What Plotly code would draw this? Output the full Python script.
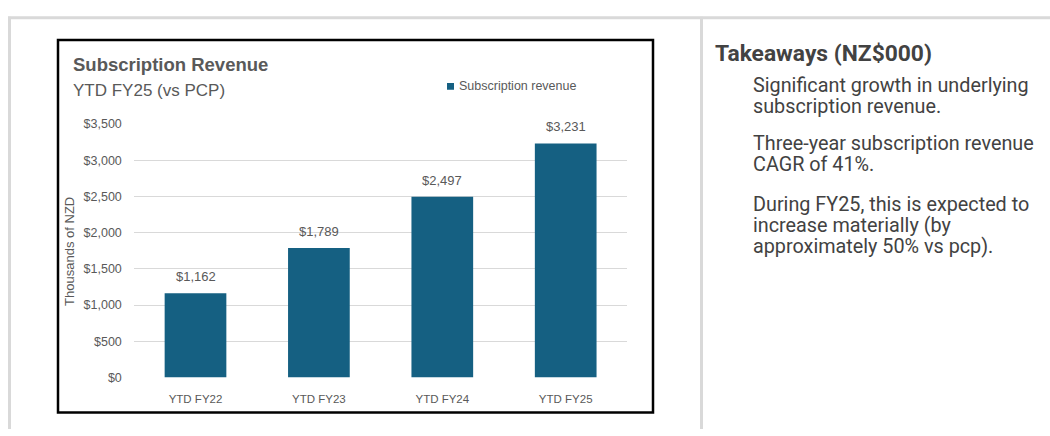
import plotly.graph_objects as go

# ---- data ----
categories = ["YTD FY22", "YTD FY23", "YTD FY24", "YTD FY25"]
revenue = [1162, 1789, 2497, 3231]
y_ticks = [0, 500, 1000, 1500, 2000, 2500, 3000, 3500]
y_tick_labels = ["$0", "$500", "$1,000", "$1,500", "$2,000", "$2,500", "$3,000", "$3,500"]
series_name = "Subscription revenue"
chart_title = "Subscription Revenue"
chart_subtitle = "YTD FY25 (vs PCP)"
y_title = "Thousands of NZD"
takeaways_title = "Takeaways (NZ$000)"
takeaway_lines = [
    ["Significant growth in underlying", "subscription revenue."],
    ["Three-year subscription revenue", "CAGR of 41%."],
    ["During FY25, this is expected to", "increase materially (by", "approximately 50% vs pcp)."],
]

W, H = 1050, 436
def px(x):
    return x / W
def py(y):
    return 1 - y / H

BAR = "#156082"
GRAY_TXT = "#595959"
DARK_TXT = "#424242"
CHART_FONT = "Liberation Sans"

fig = go.Figure()
fig.add_trace(go.Bar(
    x=categories, y=revenue, name=series_name,
    marker=dict(color=BAR, line=dict(width=0)),
    showlegend=False, hoverinfo="skip",
))

# data labels above bars
for c, v in zip(categories, revenue):
    fig.add_annotation(x=c, y=v, xref="x", yref="y", text=f"${v:,}",
                       showarrow=False, yanchor="bottom", yshift=7,
                       font=dict(family=CHART_FONT, size=13, color=GRAY_TXT))

shapes = []
# outer gray frame
shapes.append(dict(type="line", xref="paper", yref="paper", x0=px(8), x1=1, y0=py(11), y1=py(11),
                   line=dict(color="#d9d9d9", width=3)))
shapes.append(dict(type="line", xref="paper", yref="paper", x0=px(9.5), x1=px(9.5), y0=py(10), y1=0,
                   line=dict(color="#d9d9d9", width=3)))
shapes.append(dict(type="line", xref="paper", yref="paper", x0=px(701.5), x1=px(701.5), y0=py(10), y1=0,
                   line=dict(color="#d9d9d9", width=3)))
# chart black box
shapes.append(dict(type="rect", xref="paper", yref="paper", x0=px(58), x1=px(653), y0=py(34), y1=py(419),
                   line=dict(color="#000000", width=2.5), fillcolor="rgba(0,0,0,0)", layer="below"))
# legend square
shapes.append(dict(type="rect", xref="paper", yref="paper", x0=px(447), x1=px(454), y0=py(78.5), y1=py(85.5),
                   line=dict(width=0), fillcolor=BAR))

annotations = [
    dict(x=px(71), y=py(59), text=f"<b>{chart_title}</b>", xanchor="left", yanchor="middle",
         font=dict(family=CHART_FONT, size=18.5, color=GRAY_TXT)),
    dict(x=px(71), y=py(86), text=chart_subtitle, xanchor="left", yanchor="middle",
         font=dict(family=CHART_FONT, size=17, color=GRAY_TXT)),
    dict(x=px(457), y=py(82), text=series_name, xanchor="left", yanchor="middle",
         font=dict(family=CHART_FONT, size=12.5, color=GRAY_TXT)),
    dict(x=px(70), y=py(253), text=y_title, textangle=-90, xanchor="center", yanchor="middle",
         font=dict(family=CHART_FONT, size=13, color=GRAY_TXT)),
    dict(x=px(713), y=py(48), text=f"<b>{takeaways_title}</b>", xanchor="left", yanchor="middle",
         font=dict(family="Roboto", size=22.8, color=DARK_TXT)),
]
line_y = [[81, 102.5], [141.5, 163], [204.5, 226, 247.5]]
for para, ys in zip(takeaway_lines, line_y):
    for t, yy in zip(para, ys):
        annotations.append(dict(x=px(751), y=py(yy), text=t, xanchor="left", yanchor="middle",
                                font=dict(family="Roboto", size=19.8, color=DARK_TXT)))
for a in annotations:
    a.update(xref="paper", yref="paper", showarrow=False)

fig.update_layout(
    width=W, height=H, autosize=False,
    margin=dict(l=0, r=0, t=0, b=0, pad=0),
    paper_bgcolor="white", plot_bgcolor="white",
    bargap=0.5,
    shapes=shapes,
    xaxis=dict(domain=[px(133.8), px(627.4)], showgrid=False, zeroline=False, showline=False,
               ticks="", ticklabelstandoff=13,
               tickfont=dict(family=CHART_FONT, size=11.5, color=GRAY_TXT), fixedrange=True),
    yaxis=dict(domain=[py(382.7), py(120.9)], range=[0, 3500], tickvals=y_ticks, ticktext=y_tick_labels,
               showgrid=True, gridcolor="#d9d9d9", gridwidth=1, zeroline=False, showline=False,
               ticks="", ticklabelstandoff=11,
               tickfont=dict(family=CHART_FONT, size=12.5, color=GRAY_TXT), fixedrange=True),
    showlegend=False,
)
for a in annotations:
    fig.add_annotation(**a)

fig.write_html("out.html")
